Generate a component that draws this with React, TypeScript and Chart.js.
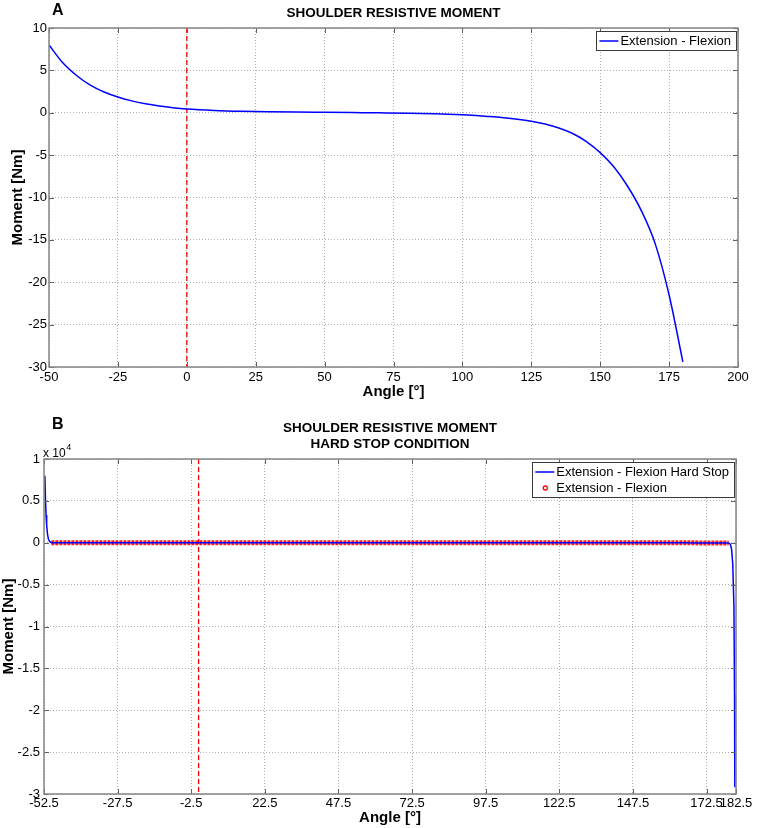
import React, { useEffect, useRef } from "react";
import { Chart, registerables } from "chart.js";

Chart.register(...registerables);

const FONT = '"Liberation Sans", Arial, Helvetica, sans-serif';

// ---------- Panel A: resistive moment ----------
const anglesA = [-50, -45, -40, -35, -30, -25, -20, -15, -10, -5, 0, 10, 20, 30, 40, 50, 60, 70, 80, 90, 100, 105, 110, 115, 120, 125, 130, 135, 140, 145, 150, 155, 160, 165, 170, 175, 180];
const momentsA = [8.0, 5.9, 4.4, 3.25, 2.45, 1.85, 1.4, 1.06, 0.8, 0.6, 0.45, 0.28, 0.18, 0.12, 0.08, 0.05, 0.02, -0.01, -0.05, -0.12, -0.24, -0.33, -0.45, -0.58, -0.76, -1.0, -1.33, -1.8, -2.45, -3.4, -4.7, -6.4, -8.7, -11.6, -15.5, -21.5, -29.4];

const xTicksA = [-50, -25, 0, 25, 50, 75, 100, 125, 150, 175, 200];
const yTicksA = [-30, -25, -20, -15, -10, -5, 0, 5, 10];

// ---------- Panel B: hard stop condition ----------
const hardStartAngles = [-52.2, -52.0, -51.8, -51.6, -51.3, -51.0, -50.6];
const hardStartMoments = [8000, 5200, 3300, 2100, 1000, 450, 150];
const hardEndAngles = [180.6, 181.0, 181.4, 181.8, 182.0, 182.1];
const hardEndMoments = [-200, -800, -2500, -7700, -18000, -29200];

const xTicksB = [-52.5, -27.5, -2.5, 22.5, 47.5, 72.5, 97.5, 122.5, 147.5, 172.5, 182.5];
const yTicksB = [-3, -2.5, -2, -1.5, -1, -0.5, 0, 0.5, 1]; // x 10^4
const yExponentB = 4;

const neutralAngle = 0;

const BLUE = "#0000ff";
const RED = "#ff0000";

type LegendItem = { label: string; kind: "line" | "circle"; color: string };

type FrameOpts = {
  titles: string[];
  letter: string;
  legend: LegendItem[];
  exponent?: number;
};

function framePlugin(o: FrameOpts) {
  return {
    id: "matlabFrame",
    afterDatasetsDraw(chart: any) {
      const { ctx, chartArea: a, scales } = chart;
      const xs = scales.x;
      const ys = scales.y;
      ctx.save();
      // inward tick marks on all four sides
      ctx.strokeStyle = "#606060";
      ctx.lineWidth = 1;
      ctx.setLineDash([]);
      ctx.beginPath();
      xs.ticks.forEach((t: any) => {
        const px = Math.round(xs.getPixelForValue(t.value)) + 0.5;
        ctx.moveTo(px, a.top);
        ctx.lineTo(px, a.top + 5);
        ctx.moveTo(px, a.bottom);
        ctx.lineTo(px, a.bottom - 5);
      });
      ys.ticks.forEach((t: any) => {
        const py = Math.round(ys.getPixelForValue(t.value)) + 0.5;
        ctx.moveTo(a.left, py);
        ctx.lineTo(a.left + 5, py);
        ctx.moveTo(a.right, py);
        ctx.lineTo(a.right - 5, py);
      });
      ctx.stroke();
      // box
      ctx.strokeStyle = "#858585";
      ctx.lineWidth = 1.5;
      ctx.strokeRect(a.left, a.top, a.right - a.left, a.bottom - a.top);

      // titles
      ctx.fillStyle = "#000";
      ctx.font = `bold 13.5px ${FONT}`;
      ctx.textAlign = "center";
      ctx.textBaseline = "middle";
      const cx = (a.left + a.right) / 2;
      const n = o.titles.length;
      o.titles.forEach((t, i) => {
        ctx.fillText(t, cx, a.top - 15 - (n - 1 - i) * 16);
      });

      // panel letter
      ctx.font = `bold 16px ${FONT}`;
      ctx.textAlign = "left";
      const letterY = n > 1 ? a.top - 34 : a.top - 17;
      ctx.fillText(o.letter, 52, letterY);

      // exponent label
      if (o.exponent !== undefined) {
        ctx.font = `12px ${FONT}`;
        ctx.textBaseline = "alphabetic";
        const base = "x 10";
        ctx.fillText(base, a.left - 1, a.top - 2);
        const w = ctx.measureText(base).width;
        ctx.font = `9px ${FONT}`;
        ctx.fillText(String(o.exponent), a.left - 1 + w + 0.5, a.top - 9);
      }

      // legend
      ctx.font = `13px ${FONT}`;
      ctx.textBaseline = "middle";
      const tw = Math.max(...o.legend.map((l) => ctx.measureText(l.label).width));
      const bw = 24 + tw + 5;
      const bh = 3 + o.legend.length * 16;
      const bx = a.right - 2 - bw;
      const by = a.top + 3;
      ctx.fillStyle = "#fff";
      ctx.fillRect(bx, by, bw, bh);
      ctx.strokeStyle = "#3a3a3a";
      ctx.lineWidth = 1;
      ctx.strokeRect(Math.round(bx) + 0.5, Math.round(by) + 0.5, Math.round(bw), Math.round(bh));
      o.legend.forEach((l, i) => {
        const ry = by + 10 + i * 16;
        if (l.kind === "line") {
          ctx.strokeStyle = l.color;
          ctx.lineWidth = 1.5;
          ctx.beginPath();
          ctx.moveTo(bx + 3, ry);
          ctx.lineTo(bx + 22, ry);
          ctx.stroke();
        } else {
          ctx.strokeStyle = l.color;
          ctx.lineWidth = 1.3;
          ctx.beginPath();
          ctx.arc(bx + 13, ry, 2, 0, Math.PI * 2);
          ctx.stroke();
        }
        ctx.fillStyle = "#000";
        ctx.fillText(l.label, bx + 24, ry + 0.5);
      });
      ctx.restore();
    },
  };
}

function axisCommon(ticks: number[], extra: any) {
  return {
    type: "linear",
    afterBuildTicks: (s: any) => {
      s.ticks = ticks.map((v) => ({ value: v }));
    },
    grid: {
      color: "rgba(150,150,150,0.75)",
      lineWidth: 1,
      drawTicks: false,
    },
    border: { display: false, dash: [1, 2] },
    ...extra,
  };
}

function App() {
  const refA = useRef<HTMLCanvasElement>(null);
  const refB = useRef<HTMLCanvasElement>(null);

  useEffect(() => {
    const ptsA = anglesA.map((x, i) => ({ x, y: momentsA[i] }));
    const chartA = new Chart(refA.current as HTMLCanvasElement, {
      type: "line",
      data: {
        datasets: [
          {
            label: "Extension - Flexion",
            data: ptsA,
            borderColor: BLUE,
            borderWidth: 1.5,
            pointRadius: 0,
            cubicInterpolationMode: "monotone",
          },
          {
            label: "neutral",
            data: [
              { x: neutralAngle, y: yTicksA[yTicksA.length - 1] },
              { x: neutralAngle, y: yTicksA[0] },
            ],
            borderColor: RED,
            borderWidth: 1.3,
            borderDash: [5, 3],
            pointRadius: 0,
          },
        ],
      },
      options: {
        animation: false,
        responsive: false,
        events: [],
        layout: { padding: { top: 28, right: 27, left: 0, bottom: 0 } },
        plugins: { legend: { display: false }, tooltip: { enabled: false }, title: { display: false } },
        scales: {
          x: axisCommon(xTicksA, {
            min: xTicksA[0],
            max: xTicksA[xTicksA.length - 1],
            afterFit: (s: any) => {
              s.height = 43;
            },
            ticks: { autoSkip: false, maxRotation: 0, padding: 3, color: "#000", font: { family: FONT, size: 13 } },
            title: {
              display: true,
              text: "Angle [°]",
              color: "#000",
              font: { family: FONT, size: 15, weight: "bold" },
              padding: { top: 0, bottom: 9 },
            },
          }),
          y: axisCommon(yTicksA, {
            min: yTicksA[0],
            max: yTicksA[yTicksA.length - 1],
            afterFit: (s: any) => {
              s.width = 49;
            },
            ticks: { autoSkip: false, padding: 2, color: "#000", font: { family: FONT, size: 13 } },
            title: {
              display: true,
              text: "Moment [Nm]",
              color: "#000",
              font: { family: FONT, size: 15, weight: "bold" },
              padding: { top: 9, bottom: 0 },
            },
          }),
        },
      } as any,
      plugins: [
        framePlugin({
          titles: ["SHOULDER RESISTIVE MOMENT"],
          letter: "A",
          legend: [{ label: "Extension - Flexion", kind: "line", color: BLUE }],
        }),
      ],
    } as any);

    const scaleB = Math.pow(10, yExponentB);
    const hardPts = [
      ...hardStartAngles.map((x, i) => ({ x, y: hardStartMoments[i] })),
      ...ptsA,
      ...hardEndAngles.map((x, i) => ({ x, y: hardEndMoments[i] })),
    ];
    const chartB = new Chart(refB.current as HTMLCanvasElement, {
      type: "line",
      data: {
        datasets: [
          {
            label: "Extension - Flexion Hard Stop",
            data: hardPts,
            borderColor: BLUE,
            borderWidth: 1.5,
            pointRadius: 0,
          },
          {
            label: "Extension - Flexion",
            data: ptsA,
            borderColor: "#ff1a1a",
            borderWidth: 5,
            borderDash: [3, 1],
            pointRadius: 0,
          },
          {
            label: "neutral",
            data: [
              { x: neutralAngle, y: yTicksB[yTicksB.length - 1] * scaleB },
              { x: neutralAngle, y: yTicksB[0] * scaleB },
            ],
            borderColor: RED,
            borderWidth: 1.3,
            borderDash: [5, 3],
            pointRadius: 0,
          },
        ],
      },
      options: {
        animation: false,
        responsive: false,
        events: [],
        layout: { padding: { top: 49, right: 29, left: 0, bottom: 0 } },
        plugins: { legend: { display: false }, tooltip: { enabled: false }, title: { display: false } },
        scales: {
          x: axisCommon(xTicksB, {
            min: xTicksB[0],
            max: xTicksB[xTicksB.length - 1],
            afterFit: (s: any) => {
              s.height = 34;
            },
            ticks: { autoSkip: false, maxRotation: 0, padding: 2, color: "#000", font: { family: FONT, size: 13 } },
            title: {
              display: true,
              text: "Angle [°]",
              color: "#000",
              font: { family: FONT, size: 15, weight: "bold" },
              padding: { top: 0, bottom: 1 },
            },
          }),
          y: axisCommon(
            yTicksB.map((v) => v * scaleB),
            {
              min: yTicksB[0] * scaleB,
              max: yTicksB[yTicksB.length - 1] * scaleB,
              afterFit: (s: any) => {
                s.width = 44;
              },
              ticks: {
                autoSkip: false,
                padding: 4,
                color: "#000",
                font: { family: FONT, size: 13 },
                callback: (v: number) => String(Math.round((v / scaleB) * 10) / 10),
              },
              title: {
                display: true,
                text: "Moment [Nm]",
                color: "#000",
                font: { family: FONT, size: 15, weight: "bold" },
                padding: { top: 0, bottom: 0 },
              },
            }
          ),
        },
      } as any,
      plugins: [
        framePlugin({
          titles: ["SHOULDER RESISTIVE MOMENT", "HARD STOP CONDITION"],
          letter: "B",
          exponent: yExponentB,
          legend: [
            { label: "Extension - Flexion Hard Stop", kind: "line", color: BLUE },
            { label: "Extension - Flexion", kind: "circle", color: RED },
          ],
        }),
      ],
    } as any);

    return () => {
      chartA.destroy();
      chartB.destroy();
    };
  }, []);

  return (
    <div style={{ position: "absolute", left: 0, top: 0, width: 765, height: 828, background: "#fff" }}>
      <canvas ref={refA} width={765} height={410} style={{ display: "block" }} />
      <canvas ref={refB} width={765} height={418} style={{ display: "block" }} />
    </div>
  );
}

export default App;
